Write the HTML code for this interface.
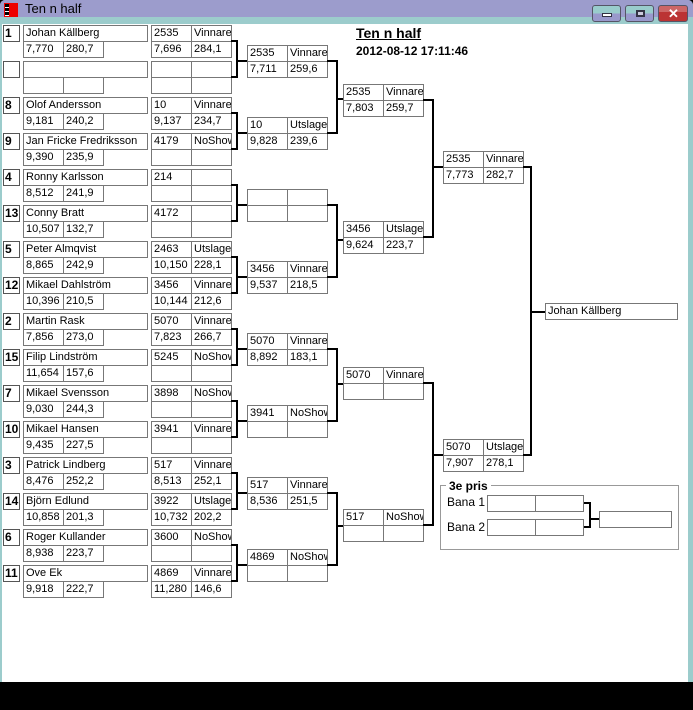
<!DOCTYPE html><html><head><meta charset="utf-8"><style>
*{margin:0;padding:0;box-sizing:border-box}
body{width:693px;height:710px;position:relative;background:#000;overflow:hidden;font-family:"Liberation Sans",sans-serif}
#win{position:absolute;left:0;top:0;width:693px;height:682px;background:#9ccccc;border-radius:5px 5px 0 0}
#tb{position:absolute;left:0;top:0;width:693px;height:17px;background:#9c9ccc;border-radius:5px 5px 0 0}
#cl{position:absolute;left:2px;top:24px;width:686px;height:658px;background:#fff}
.c{position:absolute;height:17px;width:41px;border:1px solid #777;font-size:11px;line-height:15px;padding-left:2px;white-space:nowrap;overflow:hidden;background:#fff;color:#000}
.s{width:17px;font-weight:bold;padding-left:1px;border-color:#555;font-size:12px}
.n{width:125px}
.b{position:absolute;top:5px;height:17px;border:1px solid #556;border-radius:3px;background:#9cc}
</style></head><body>
<div id="win"></div><div id="tb"></div>
<div style="position:absolute;left:4px;top:3px;width:14px;height:14px;background:#e00"></div>
<div style="position:absolute;left:5px;top:4px;width:4px;height:12px;background:repeating-linear-gradient(#000 0 3px,#fff 3px 4px)"></div>
<div style="position:absolute;left:25px;top:1px;font-size:13px;color:#000">Ten n half</div>
<div class="b" style="left:592px;width:29px;background:linear-gradient(#9cc 0 50%,#99c 50%)"><div style="position:absolute;left:9px;top:7px;width:10px;height:4px;background:#fff;border:1px solid #334"></div></div>
<div class="b" style="left:625px;width:29px;background:linear-gradient(#9cc 0 50%,#99c 50%)"><div style="position:absolute;left:10px;top:4px;width:9px;height:7px;border:2px solid #334;background:#ccd"></div></div>
<div class="b" style="left:658px;width:30px;background:linear-gradient(#c66 0 40%,#b33 40%)"><div style="position:absolute;left:9px;top:0;color:#fff;font-weight:bold;font-size:13px">✕</div></div>
<div id="cl"></div>
<div style="position:absolute;left:356px;top:25px;font-weight:bold;font-size:14px;text-decoration:underline">Ten n half</div>
<div style="position:absolute;left:356px;top:44px;font-weight:bold;font-size:12px">2012-08-12 17:11:46</div>

<div class="c s" style="left:3px;top:25px">1</div><div class="c n" style="left:23px;top:25px">Johan Källberg</div><div class="c" style="left:23px;top:41px">7,770</div><div class="c" style="left:63px;top:41px">280,7</div><div class="c" style="left:151px;top:25px">2535</div><div class="c" style="left:191px;top:25px">Vinnare</div><div class="c" style="left:151px;top:41px">7,696</div><div class="c" style="left:191px;top:41px">284,1</div>
<div class="c s" style="left:3px;top:61px"></div><div class="c n" style="left:23px;top:61px"></div><div class="c" style="left:23px;top:77px"></div><div class="c" style="left:63px;top:77px"></div><div class="c" style="left:151px;top:61px"></div><div class="c" style="left:191px;top:61px"></div><div class="c" style="left:151px;top:77px"></div><div class="c" style="left:191px;top:77px"></div>
<div class="c s" style="left:3px;top:97px">8</div><div class="c n" style="left:23px;top:97px">Olof Andersson</div><div class="c" style="left:23px;top:113px">9,181</div><div class="c" style="left:63px;top:113px">240,2</div><div class="c" style="left:151px;top:97px">10</div><div class="c" style="left:191px;top:97px">Vinnare</div><div class="c" style="left:151px;top:113px">9,137</div><div class="c" style="left:191px;top:113px">234,7</div>
<div class="c s" style="left:3px;top:133px">9</div><div class="c n" style="left:23px;top:133px">Jan Fricke Fredriksson</div><div class="c" style="left:23px;top:149px">9,390</div><div class="c" style="left:63px;top:149px">235,9</div><div class="c" style="left:151px;top:133px">4179</div><div class="c" style="left:191px;top:133px">NoShow</div><div class="c" style="left:151px;top:149px"></div><div class="c" style="left:191px;top:149px"></div>
<div class="c s" style="left:3px;top:169px">4</div><div class="c n" style="left:23px;top:169px">Ronny Karlsson</div><div class="c" style="left:23px;top:185px">8,512</div><div class="c" style="left:63px;top:185px">241,9</div><div class="c" style="left:151px;top:169px">214</div><div class="c" style="left:191px;top:169px"></div><div class="c" style="left:151px;top:185px"></div><div class="c" style="left:191px;top:185px"></div>
<div class="c s" style="left:3px;top:205px">13</div><div class="c n" style="left:23px;top:205px">Conny Bratt</div><div class="c" style="left:23px;top:221px">10,507</div><div class="c" style="left:63px;top:221px">132,7</div><div class="c" style="left:151px;top:205px">4172</div><div class="c" style="left:191px;top:205px"></div><div class="c" style="left:151px;top:221px"></div><div class="c" style="left:191px;top:221px"></div>
<div class="c s" style="left:3px;top:241px">5</div><div class="c n" style="left:23px;top:241px">Peter Almqvist</div><div class="c" style="left:23px;top:257px">8,865</div><div class="c" style="left:63px;top:257px">242,9</div><div class="c" style="left:151px;top:241px">2463</div><div class="c" style="left:191px;top:241px">Utslager</div><div class="c" style="left:151px;top:257px">10,150</div><div class="c" style="left:191px;top:257px">228,1</div>
<div class="c s" style="left:3px;top:277px">12</div><div class="c n" style="left:23px;top:277px">Mikael Dahlström</div><div class="c" style="left:23px;top:293px">10,396</div><div class="c" style="left:63px;top:293px">210,5</div><div class="c" style="left:151px;top:277px">3456</div><div class="c" style="left:191px;top:277px">Vinnare</div><div class="c" style="left:151px;top:293px">10,144</div><div class="c" style="left:191px;top:293px">212,6</div>
<div class="c s" style="left:3px;top:313px">2</div><div class="c n" style="left:23px;top:313px">Martin Rask</div><div class="c" style="left:23px;top:329px">7,856</div><div class="c" style="left:63px;top:329px">273,0</div><div class="c" style="left:151px;top:313px">5070</div><div class="c" style="left:191px;top:313px">Vinnare</div><div class="c" style="left:151px;top:329px">7,823</div><div class="c" style="left:191px;top:329px">266,7</div>
<div class="c s" style="left:3px;top:349px">15</div><div class="c n" style="left:23px;top:349px">Filip Lindström</div><div class="c" style="left:23px;top:365px">11,654</div><div class="c" style="left:63px;top:365px">157,6</div><div class="c" style="left:151px;top:349px">5245</div><div class="c" style="left:191px;top:349px">NoShow</div><div class="c" style="left:151px;top:365px"></div><div class="c" style="left:191px;top:365px"></div>
<div class="c s" style="left:3px;top:385px">7</div><div class="c n" style="left:23px;top:385px">Mikael Svensson</div><div class="c" style="left:23px;top:401px">9,030</div><div class="c" style="left:63px;top:401px">244,3</div><div class="c" style="left:151px;top:385px">3898</div><div class="c" style="left:191px;top:385px">NoShow</div><div class="c" style="left:151px;top:401px"></div><div class="c" style="left:191px;top:401px"></div>
<div class="c s" style="left:3px;top:421px">10</div><div class="c n" style="left:23px;top:421px">Mikael Hansen</div><div class="c" style="left:23px;top:437px">9,435</div><div class="c" style="left:63px;top:437px">227,5</div><div class="c" style="left:151px;top:421px">3941</div><div class="c" style="left:191px;top:421px">Vinnare</div><div class="c" style="left:151px;top:437px"></div><div class="c" style="left:191px;top:437px"></div>
<div class="c s" style="left:3px;top:457px">3</div><div class="c n" style="left:23px;top:457px">Patrick Lindberg</div><div class="c" style="left:23px;top:473px">8,476</div><div class="c" style="left:63px;top:473px">252,2</div><div class="c" style="left:151px;top:457px">517</div><div class="c" style="left:191px;top:457px">Vinnare</div><div class="c" style="left:151px;top:473px">8,513</div><div class="c" style="left:191px;top:473px">252,1</div>
<div class="c s" style="left:3px;top:493px">14</div><div class="c n" style="left:23px;top:493px">Björn Edlund</div><div class="c" style="left:23px;top:509px">10,858</div><div class="c" style="left:63px;top:509px">201,3</div><div class="c" style="left:151px;top:493px">3922</div><div class="c" style="left:191px;top:493px">Utslager</div><div class="c" style="left:151px;top:509px">10,732</div><div class="c" style="left:191px;top:509px">202,2</div>
<div class="c s" style="left:3px;top:529px">6</div><div class="c n" style="left:23px;top:529px">Roger Kullander</div><div class="c" style="left:23px;top:545px">8,938</div><div class="c" style="left:63px;top:545px">223,7</div><div class="c" style="left:151px;top:529px">3600</div><div class="c" style="left:191px;top:529px">NoShow</div><div class="c" style="left:151px;top:545px"></div><div class="c" style="left:191px;top:545px"></div>
<div class="c s" style="left:3px;top:565px">11</div><div class="c n" style="left:23px;top:565px">Ove Ek</div><div class="c" style="left:23px;top:581px">9,918</div><div class="c" style="left:63px;top:581px">222,7</div><div class="c" style="left:151px;top:565px">4869</div><div class="c" style="left:191px;top:565px">Vinnare</div><div class="c" style="left:151px;top:581px">11,280</div><div class="c" style="left:191px;top:581px">146,6</div>

<div class="c" style="left:247px;top:45px">2535</div><div class="c" style="left:287px;top:45px">Vinnare</div><div class="c" style="left:247px;top:61px">7,711</div><div class="c" style="left:287px;top:61px">259,6</div>
<div class="c" style="left:247px;top:117px">10</div><div class="c" style="left:287px;top:117px">Utslager</div><div class="c" style="left:247px;top:133px">9,828</div><div class="c" style="left:287px;top:133px">239,6</div>
<div class="c" style="left:247px;top:189px"></div><div class="c" style="left:287px;top:189px"></div><div class="c" style="left:247px;top:205px"></div><div class="c" style="left:287px;top:205px"></div>
<div class="c" style="left:247px;top:261px">3456</div><div class="c" style="left:287px;top:261px">Vinnare</div><div class="c" style="left:247px;top:277px">9,537</div><div class="c" style="left:287px;top:277px">218,5</div>
<div class="c" style="left:247px;top:333px">5070</div><div class="c" style="left:287px;top:333px">Vinnare</div><div class="c" style="left:247px;top:349px">8,892</div><div class="c" style="left:287px;top:349px">183,1</div>
<div class="c" style="left:247px;top:405px">3941</div><div class="c" style="left:287px;top:405px">NoShow</div><div class="c" style="left:247px;top:421px"></div><div class="c" style="left:287px;top:421px"></div>
<div class="c" style="left:247px;top:477px">517</div><div class="c" style="left:287px;top:477px">Vinnare</div><div class="c" style="left:247px;top:493px">8,536</div><div class="c" style="left:287px;top:493px">251,5</div>
<div class="c" style="left:247px;top:549px">4869</div><div class="c" style="left:287px;top:549px">NoShow</div><div class="c" style="left:247px;top:565px"></div><div class="c" style="left:287px;top:565px"></div>

<div class="c" style="left:343px;top:84px">2535</div><div class="c" style="left:383px;top:84px">Vinnare</div><div class="c" style="left:343px;top:100px">7,803</div><div class="c" style="left:383px;top:100px">259,7</div>
<div class="c" style="left:343px;top:221px">3456</div><div class="c" style="left:383px;top:221px">Utslager</div><div class="c" style="left:343px;top:237px">9,624</div><div class="c" style="left:383px;top:237px">223,7</div>
<div class="c" style="left:343px;top:367px">5070</div><div class="c" style="left:383px;top:367px">Vinnare</div><div class="c" style="left:343px;top:383px"></div><div class="c" style="left:383px;top:383px"></div>
<div class="c" style="left:343px;top:509px">517</div><div class="c" style="left:383px;top:509px">NoShow</div><div class="c" style="left:343px;top:525px"></div><div class="c" style="left:383px;top:525px"></div>

<div class="c" style="left:443px;top:151px">2535</div><div class="c" style="left:483px;top:151px">Vinnare</div><div class="c" style="left:443px;top:167px">7,773</div><div class="c" style="left:483px;top:167px">282,7</div>
<div class="c" style="left:443px;top:439px">5070</div><div class="c" style="left:483px;top:439px">Utslager</div><div class="c" style="left:443px;top:455px">7,907</div><div class="c" style="left:483px;top:455px">278,1</div>
<div class="c" style="left:545px;top:303px;width:133px">Johan Källberg</div>

<div style="position:absolute;left:440px;top:485px;width:239px;height:65px;border:1px solid #999"></div>
<div style="position:absolute;left:446px;top:479px;background:#fff;padding:0 3px;font-weight:bold;font-size:12px">3e pris</div>
<div style="position:absolute;left:447px;top:495px;font-size:12px">Bana 1</div>
<div style="position:absolute;left:447px;top:520px;font-size:12px">Bana 2</div>
<div class="c" style="left:487px;top:495px;width:49px"></div><div class="c" style="left:535px;top:495px;width:49px"></div>
<div class="c" style="left:487px;top:519px;width:49px"></div><div class="c" style="left:535px;top:519px;width:49px"></div>
<div class="c" style="left:599px;top:511px;width:73px"></div>

<svg style="position:absolute;left:0;top:0" width="693" height="710" fill="none" stroke="#000" stroke-width="2">
<path d="M231 41H237V77H231M237 61H247"/>
<path d="M231 113H237V149H231M237 133H247"/>
<path d="M231 185H237V221H231M237 205H247"/>
<path d="M231 257H237V293H231M237 277H247"/>
<path d="M231 329H237V365H231M237 349H247"/>
<path d="M231 401H237V437H231M237 421H247"/>
<path d="M231 473H237V509H231M237 493H247"/>
<path d="M231 545H237V581H231M237 565H247"/>
<path d="M327 61H337V133H327M337 99H343"/>
<path d="M327 205H337V277H327M337 240H343"/>
<path d="M327 349H337V421H327M337 384H343"/>
<path d="M327 493H337V565H327M337 526H343"/>
<path d="M423 100H433V237H423M433 167H443"/>
<path d="M423 383H433V525H423M433 455H443"/>
<path d="M523 167H531V455H523M531 312H545"/>
<path d="M584 503H590V527H584M590 519H599"/>
</svg>
</body></html>
